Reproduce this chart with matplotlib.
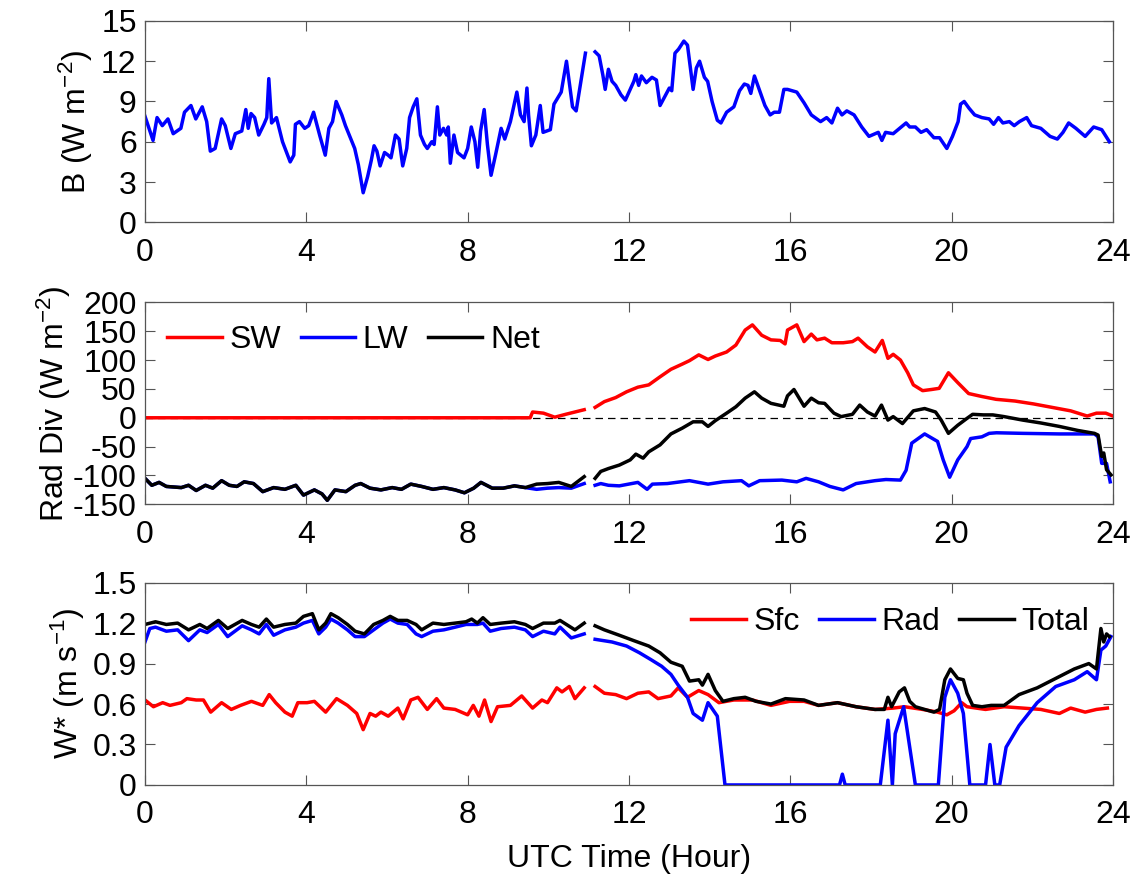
"""
Three-panel diurnal plot: buoyancy flux B, radiative divergence and
convective velocity scale W* over one UTC day.
"""

import numpy as np
import matplotlib.pyplot as plt

NAN = np.nan

# --- Data -----------------------------------------------------------------

# B (W m-2)
b_t = [0.0, 0.2, 0.3, 0.43, 0.57, 0.7, 0.89, 0.98, 1.14, 1.26, 1.42, 1.53, 1.62, 1.74,
       1.9, 1.99, 2.13, 2.24, 2.4, 2.5, 2.56, 2.63, 2.72, 2.82, 2.95, 3.02, 3.07, 3.14,
       3.26, 3.41, 3.6, 3.69, 3.73, 3.83, 3.96, 4.06, 4.18, 4.33, 4.47, 4.56, 4.65, 4.74,
       4.88, 4.97, 5.2, 5.29, 5.41, 5.52, 5.61, 5.68, 5.75, 5.83, 5.94, 6.03, 6.1, 6.21,
       6.3, 6.39, 6.49, 6.56, 6.65, 6.74, 6.83, 6.93, 7.0, 7.11, 7.17, 7.25, 7.31, 7.4,
       7.48, 7.52, 7.57, 7.66, 7.75, 7.91, 8.0, 8.09, 8.18, 8.25, 8.32, 8.41, 8.49, 8.58,
       8.69, 8.83, 8.92, 9.06, 9.22, 9.31, 9.4, 9.47, 9.51, 9.58, 9.69, 9.8, 9.87, 10.05,
       10.14, 10.32, 10.45, 10.6, 10.69, 10.92,
       11.0,
       11.16, 11.26, 11.35, 11.41, 11.49, 11.58, 11.67, 11.8, 11.91, 12.03, 12.12, 12.17,
       12.24, 12.31, 12.43, 12.57, 12.68, 12.77, 12.91, 13.0, 13.06, 13.14, 13.23, 13.36,
       13.45, 13.59, 13.67, 13.75, 13.87, 13.95, 14.06, 14.19, 14.28, 14.42, 14.6, 14.74,
       14.86, 14.95, 15.02, 15.11, 15.24, 15.37, 15.5, 15.6, 15.73, 15.84, 15.93, 16.16,
       16.34, 16.52, 16.75, 16.9, 17.03, 17.17, 17.28, 17.4, 17.58, 17.77, 17.95, 18.18,
       18.27, 18.36, 18.55, 18.71, 18.87, 18.96, 19.1, 19.24, 19.38, 19.56, 19.7, 19.88,
       20.02, 20.16, 20.22, 20.31, 20.43, 20.57, 20.75, 20.93, 21.04, 21.16, 21.27, 21.43,
       21.55, 21.68, 21.86, 21.98, 22.21, 22.44, 22.62, 22.76, 22.9, 23.08, 23.31, 23.52,
       23.72, 23.91]
b_v = [7.9, 6.1, 7.8, 7.2, 7.7, 6.6, 7.0, 8.2, 8.7, 7.7, 8.6, 7.5, 5.3, 5.5,
       7.7, 7.2, 5.5, 6.6, 6.8, 8.4, 7.0, 8.1, 7.8, 6.5, 7.3, 7.8, 10.7, 7.4,
       7.8, 6.0, 4.5, 5.0, 7.3, 7.5, 7.0, 7.2, 8.2, 6.5, 5.0, 7.0, 7.5, 9.0,
       8.0, 7.2, 5.5, 4.3, 2.2, 3.4, 4.6, 5.7, 5.3, 4.2, 5.2, 5.0, 4.8, 6.5,
       6.2, 4.2, 5.5, 7.8, 8.6, 9.2, 6.5, 5.8, 5.5, 6.0, 5.8, 8.6, 6.5, 7.0,
       6.5, 7.1, 4.4, 6.5, 5.2, 4.8, 5.5, 7.1, 6.0, 4.1, 6.8, 8.4, 5.8, 3.5,
       5.0, 7.0, 6.2, 7.5, 9.7, 8.0, 7.5, 10.0, 8.0, 5.7, 6.5, 8.7, 6.7, 6.9,
       8.8, 9.7, 12.0, 8.6, 8.3, 12.6,
       NAN,
       12.7, 12.4, 11.0, 9.9, 11.4, 10.5, 10.2, 9.5, 9.1, 9.9, 10.5, 11.0,
       10.2, 10.9, 10.4, 10.8, 10.6, 8.7, 9.5, 10.0, 9.8, 12.6, 12.9, 13.5,
       13.2, 9.9, 11.5, 12.0, 10.8, 10.5, 9.0, 7.6, 7.4, 8.2, 8.6, 9.8,
       10.3, 10.2, 9.6, 10.9, 9.8, 8.7, 8.0, 8.2, 8.2, 9.9, 9.9, 9.7,
       8.9, 8.0, 7.5, 7.8, 7.4, 8.5, 8.0, 8.3, 8.0, 7.1, 6.4, 6.7,
       6.1, 6.7, 6.6, 7.0, 7.4, 7.1, 7.1, 6.7, 6.9, 6.3, 6.3, 5.5,
       6.4, 7.5, 8.8, 9.0, 8.5, 8.0, 7.8, 7.7, 7.3, 7.8, 7.4, 7.5,
       7.2, 7.5, 7.8, 7.2, 7.0, 6.4, 6.2, 6.7, 7.4, 7.0, 6.4, 7.1,
       6.9, 6.0]

# Radiative divergence (W m-2)
sw_t = [0.0, 9.55, 9.61, 9.88, 10.16, 10.43, 10.89,
        11.0,
        11.16, 11.39, 11.67, 11.94, 12.22, 12.49, 12.77, 13.04, 13.32, 13.5, 13.73,
        13.96, 14.14, 14.42, 14.65, 14.88, 15.06, 15.29, 15.52, 15.75, 15.87, 15.93,
        16.16, 16.34, 16.52, 16.66, 16.85, 17.03, 17.31, 17.54, 17.68, 17.91, 18.1,
        18.28, 18.42, 18.55, 18.73, 18.91, 19.05, 19.28, 19.5, 19.69, 19.92, 20.15,
        20.42, 20.74, 21.1, 21.57, 22.03, 22.49, 22.95, 23.36, 23.59, 23.82, 24.0]
sw_v = [0, 0, 10, 8, 1, 6, 14,
        NAN,
        18, 28, 35, 45, 53, 57, 71, 84, 93, 99, 109,
        101, 107, 114, 126, 152, 161, 143, 135, 134, 128, 152,
        161, 132, 145, 135, 138, 130, 130, 132, 138, 123, 114,
        134, 103, 110, 100, 78, 57, 47, 49, 51, 78, 61,
        42, 37, 32, 29, 24, 18, 12, 3, 8, 8, 3]

lw_t = [0.0, 0.17, 0.35, 0.53, 0.9, 1.08, 1.27, 1.5, 1.68, 1.9, 2.09, 2.28, 2.46,
        2.69, 2.92, 3.19, 3.47, 3.74, 3.93, 4.2, 4.39, 4.52, 4.71, 4.98, 5.21, 5.35,
        5.58, 5.85, 6.13, 6.36, 6.59, 6.86, 7.14, 7.41, 7.69, 7.92, 8.15, 8.33, 8.61,
        8.88, 9.16, 9.43, 9.71, 9.98, 10.26, 10.57, 10.89,
        11.0,
        11.16, 11.3, 11.49, 11.76, 12.22, 12.45, 12.58, 12.95, 13.5, 13.96, 14.33,
        14.79, 14.97, 15.24, 15.79, 16.16, 16.39, 16.7, 16.98, 17.31, 17.63, 18.1,
        18.37, 18.73, 18.87, 19.01, 19.33, 19.65, 19.79, 19.95, 20.15, 20.38, 20.47,
        20.75, 20.93, 21.11, 21.76, 22.67, 23.54, 23.63, 23.72, 23.84, 23.93]
lw_v = [-105, -117, -112, -119, -121, -117, -126, -117, -122, -109, -117, -119, -111,
        -114, -128, -121, -124, -117, -134, -125, -132, -143, -125, -128, -117, -114,
        -122, -125, -121, -124, -115, -119, -124, -121, -125, -130, -122, -112, -122,
        -122, -118, -121, -124, -122, -121, -122, -114,
        NAN,
        -117, -114, -117, -118, -112, -124, -115, -114, -109, -115, -111,
        -109, -118, -109, -108, -111, -105, -111, -119, -125, -114, -109,
        -107, -108, -91, -44, -28, -41, -73, -103, -73, -50, -36,
        -33, -27, -26, -27, -28, -28, -33, -79, -79, -111]

net_t = [0.0, 0.17, 0.35, 0.53, 0.9, 1.08, 1.27, 1.5, 1.68, 1.9, 2.09, 2.28, 2.46,
         2.69, 2.92, 3.19, 3.47, 3.74, 3.93, 4.2, 4.39, 4.52, 4.71, 4.98, 5.21, 5.35,
         5.58, 5.85, 6.13, 6.36, 6.59, 6.86, 7.14, 7.41, 7.69, 7.92, 8.15, 8.33, 8.61,
         8.88, 9.16, 9.43, 9.71, 9.98, 10.26, 10.57, 10.89,
         11.0,
         11.16, 11.3, 11.49, 11.76, 12.03, 12.17, 12.35, 12.49, 12.77, 13.04, 13.32,
         13.59, 13.82, 13.96, 14.14, 14.42, 14.65, 14.88, 15.11, 15.29, 15.52, 15.84,
         15.93, 16.09, 16.34, 16.52, 16.7, 16.85, 17.08, 17.26, 17.54, 17.72, 17.91,
         18.1, 18.26, 18.42, 18.55, 18.78, 19.05, 19.33, 19.6, 19.74, 19.92, 20.15,
         20.38, 20.52, 20.79, 21.02, 21.3, 21.76, 22.21, 22.67, 23.13, 23.54, 23.63,
         23.72, 23.77, 23.84, 23.95]
net_v = [-105, -117, -112, -119, -121, -117, -126, -117, -122, -109, -117, -119, -111,
         -114, -128, -121, -124, -117, -134, -125, -132, -143, -125, -128, -117, -114,
         -122, -125, -121, -124, -115, -119, -124, -121, -125, -130, -122, -112, -122,
         -122, -118, -121, -115, -114, -112, -119, -102,
         NAN,
         -105, -93, -88, -82, -73, -63, -70, -59, -47, -28, -18,
         -7, -7, -15, -5, 8, 19, 34, 45, 34, 25, 20,
         38, 49, 20, 34, 26, 25, 8, 2, 6, 22, 10,
         3, 22, -4, 2, -10, 12, 16, 10, -4, -27, -13,
         -1, 6, 5, 5, 2, -4, -9, -15, -22, -27, -30,
         -67, -61, -90, -99]

# W* (m s-1)
sfc_t = [0.0, 0.21, 0.44, 0.62, 0.9, 1.04, 1.27, 1.45, 1.63, 1.9, 2.14, 2.37, 2.64,
         2.92, 3.08, 3.24, 3.47, 3.65, 3.79, 4.02, 4.2, 4.48, 4.75, 5.02, 5.25, 5.41,
         5.58, 5.72, 5.85, 6.03, 6.27, 6.4, 6.59, 6.77, 7.0, 7.23, 7.41, 7.69, 8.0,
         8.14, 8.28, 8.42, 8.58, 8.74, 9.06, 9.34, 9.61, 9.84, 9.98, 10.21, 10.34,
         10.52, 10.66, 10.89,
         11.0,
         11.16, 11.39, 11.67, 11.94, 12.22, 12.49, 12.72, 13.04, 13.22, 13.45, 13.73,
         13.96, 14.23, 14.6, 15.06, 15.52, 15.98, 16.34, 16.7, 17.17, 17.63, 18.1,
         18.55, 18.83, 19.28, 19.65, 19.88, 20.06, 20.25, 20.38, 20.84, 21.3, 21.76,
         22.21, 22.67, 22.95, 23.31, 23.59, 23.86]
sfc_v = [0.63, 0.58, 0.61, 0.59, 0.61, 0.64, 0.63, 0.63, 0.54, 0.61, 0.56, 0.59, 0.62,
         0.59, 0.67, 0.61, 0.54, 0.51, 0.61, 0.61, 0.62, 0.54, 0.64, 0.59, 0.53, 0.41,
         0.53, 0.51, 0.54, 0.51, 0.57, 0.49, 0.63, 0.65, 0.56, 0.64, 0.57, 0.56, 0.52,
         0.59, 0.51, 0.63, 0.47, 0.58, 0.59, 0.66, 0.57, 0.63, 0.61, 0.72, 0.69,
         0.73, 0.64, 0.72,
         NAN,
         0.73, 0.68, 0.67, 0.64, 0.68, 0.69, 0.64, 0.66, 0.72, 0.65, 0.70,
         0.67, 0.61, 0.63, 0.63, 0.59, 0.62, 0.62, 0.59, 0.61, 0.58, 0.56,
         0.57, 0.58, 0.56, 0.54, 0.52, 0.55, 0.61, 0.58, 0.56, 0.58, 0.57,
         0.56, 0.53, 0.57, 0.54, 0.56, 0.57]

rad_t = [0.0, 0.12, 0.26, 0.53, 0.81, 1.08, 1.36, 1.54, 1.82, 2.05, 2.41, 2.64, 2.83,
         3.01, 3.19, 3.47, 3.74, 3.93, 4.15, 4.31, 4.48, 4.61, 4.79, 5.02, 5.21, 5.44,
         5.67, 5.9, 6.08, 6.27, 6.5, 6.72, 6.86, 7.14, 7.41, 7.69, 7.96, 8.24, 8.38,
         8.56, 8.83, 9.16, 9.43, 9.61, 9.88, 10.16, 10.29, 10.57, 10.89,
         11.0,
         11.16, 11.58, 11.94, 12.26, 12.54, 12.81, 13.04, 13.22, 13.45, 13.59, 13.82,
         13.96, 14.19, 14.38, 17.22, 17.29, 17.36, 18.23, 18.42, 18.53, 18.6, 18.81,
         19.1, 19.67, 19.83, 19.97, 20.15, 20.29, 20.45, 20.84, 20.95, 21.07, 21.19,
         21.35, 21.67, 22.12, 22.58, 23.04, 23.36, 23.59, 23.7, 23.82, 23.95]
rad_v = [1.06, 1.16, 1.17, 1.14, 1.15, 1.07, 1.15, 1.13, 1.19, 1.10, 1.18, 1.15, 1.12,
         1.19, 1.11, 1.15, 1.17, 1.20, 1.22, 1.12, 1.17, 1.23, 1.20, 1.15, 1.10, 1.10,
         1.15, 1.20, 1.23, 1.20, 1.19, 1.12, 1.10, 1.14, 1.15, 1.17, 1.19, 1.19, 1.20,
         1.14, 1.16, 1.17, 1.15, 1.10, 1.14, 1.12, 1.17, 1.09, 1.12,
         NAN,
         1.08, 1.06, 1.03, 0.98, 0.93, 0.88, 0.82, 0.74, 0.65, 0.53, 0.48,
         0.61, 0.51, 0.0, 0.0, 0.08, 0.0, 0.0, 0.48, 0.0, 0.38, 0.58,
         0.0, 0.0, 0.65, 0.78, 0.68, 0.53, 0.0, 0.0, 0.30, 0.0, 0.0,
         0.28, 0.44, 0.61, 0.73, 0.78, 0.84, 0.78, 1.00, 1.03, 1.10]

tot_t = [0.0, 0.26, 0.53, 0.81, 1.08, 1.36, 1.54, 1.82, 2.05, 2.41, 2.64, 2.83, 3.01,
         3.19, 3.47, 3.74, 3.93, 4.15, 4.31, 4.48, 4.61, 4.79, 5.02, 5.21, 5.44, 5.67,
         5.9, 6.08, 6.27, 6.5, 6.72, 6.86, 7.14, 7.41, 7.69, 7.96, 8.1, 8.24, 8.38,
         8.56, 8.83, 9.16, 9.43, 9.61, 9.88, 10.16, 10.29, 10.66, 10.89,
         11.0,
         11.16, 11.39, 11.76, 12.12, 12.49, 12.77, 13.04, 13.32, 13.5, 13.73, 13.82,
         13.96, 14.14, 14.33, 14.6, 14.88, 15.15, 15.52, 15.88, 16.34, 16.7, 17.17,
         17.63, 18.1, 18.33, 18.42, 18.51, 18.7, 18.83, 18.96, 19.1, 19.56, 19.7,
         19.83, 19.97, 20.15, 20.29, 20.38, 20.52, 20.75, 20.98, 21.3, 21.67, 22.12,
         22.58, 23.04, 23.4, 23.59, 23.7, 23.77, 23.84, 23.91]
tot_v = [1.19, 1.21, 1.19, 1.20, 1.15, 1.19, 1.16, 1.22, 1.16, 1.22, 1.19, 1.17, 1.23,
         1.17, 1.19, 1.20, 1.25, 1.27, 1.15, 1.20, 1.27, 1.24, 1.19, 1.14, 1.12, 1.19,
         1.22, 1.25, 1.22, 1.22, 1.19, 1.15, 1.20, 1.19, 1.20, 1.21, 1.23, 1.20, 1.24,
         1.19, 1.20, 1.21, 1.19, 1.16, 1.20, 1.20, 1.22, 1.15, 1.20,
         NAN,
         1.18, 1.15, 1.11, 1.07, 1.03, 0.98, 0.91, 0.88, 0.77, 0.78, 0.74,
         0.82, 0.70, 0.62, 0.64, 0.65, 0.62, 0.60, 0.64, 0.63, 0.59, 0.61,
         0.58, 0.56, 0.56, 0.65, 0.58, 0.69, 0.72, 0.62, 0.58, 0.54, 0.56,
         0.78, 0.86, 0.79, 0.78, 0.68, 0.59, 0.58, 0.59, 0.59, 0.67, 0.72,
         0.79, 0.86, 0.90, 0.86, 1.16, 1.06, 1.12, 1.10]

X_TICKS = [0, 4, 8, 12, 16, 20, 24]

# --------------------------------------------------------------------------

plt.rcParams["font.family"] = ["Liberation Sans", "DejaVu Sans"]
plt.rcParams["mathtext.default"] = "regular"
plt.rcParams["axes.unicode_minus"] = False
plt.rcParams["font.size"] = 23

FRAME = "#555555"
LW_LINE = 2.5

fig = plt.figure(figsize=(11.37, 8.8), dpi=100, facecolor="white")
left, width = 0.1275, 0.8514
ax1 = fig.add_axes([left, 0.7474, width, 0.2288])
ax2 = fig.add_axes([left, 0.4269, width, 0.2295])
ax3 = fig.add_axes([left, 0.1080, width, 0.2299])

for ax in (ax1, ax2, ax3):
    ax.set_xlim(0, 24)
    ax.set_xticks(X_TICKS)
    ax.tick_params(direction="in", top=True, right=True, length=7, width=0.8,
                   color=FRAME, labelsize=23)
    ax.tick_params(axis="x", pad=11)
    ax.tick_params(axis="y", pad=6)
    for sp in ax.spines.values():
        sp.set_color(FRAME)
        sp.set_linewidth(0.9)

legend_kw = dict(ncol=3, frameon=False, handlelength=1.7, handletextpad=0.25,
                 columnspacing=0.6, borderaxespad=0.0)

# top: buoyancy flux
ax1.plot(b_t, b_v, color="#0000ff", linewidth=LW_LINE)
ax1.set_ylim(0, 15)
ax1.set_yticks([0, 3, 6, 9, 12, 15])
ax1.set_ylabel("B (W m$^{-2}$)", labelpad=4)

# middle: radiative divergence
ax2.axhline(0, color="black", linestyle="--", linewidth=0.9, dashes=(6, 4))
ax2.plot(sw_t, sw_v, color="#ff0000", linewidth=LW_LINE, label="SW")
ax2.plot(lw_t, lw_v, color="#0000ff", linewidth=LW_LINE, label="LW")
ax2.plot(net_t, net_v, color="black", linewidth=LW_LINE, label="Net")
ax2.set_ylim(-150, 200)
ax2.set_yticks(np.arange(-150, 201, 50))
ax2.set_ylabel("Rad Div (W m$^{-2}$)", labelpad=0)
ax2.legend(loc="center left", bbox_to_anchor=(0.010, 0.814), **legend_kw)

# bottom: convective velocity scale
ax3.plot(sfc_t, sfc_v, color="#ff0000", linewidth=LW_LINE, label="Sfc")
ax3.plot(rad_t, rad_v, color="#0000ff", linewidth=LW_LINE, label="Rad")
ax3.plot(tot_t, tot_v, color="black", linewidth=LW_LINE, label="Total")
ax3.set_ylim(0, 1.5)
ax3.set_yticks([0, 0.3, 0.6, 0.9, 1.2, 1.5])
ax3.set_yticklabels(["0", "0.3", "0.6", "0.9", "1.2", "1.5"])
ax3.set_ylabel("W* (m s$^{-1}$)", labelpad=4)
ax3.set_xlabel("UTC Time (Hour)", labelpad=10)
ax3.legend(loc="center right", bbox_to_anchor=(0.989, 0.807), **legend_kw)

plt.savefig("out.png", dpi=100, facecolor="white")
print("Saved out.png")
